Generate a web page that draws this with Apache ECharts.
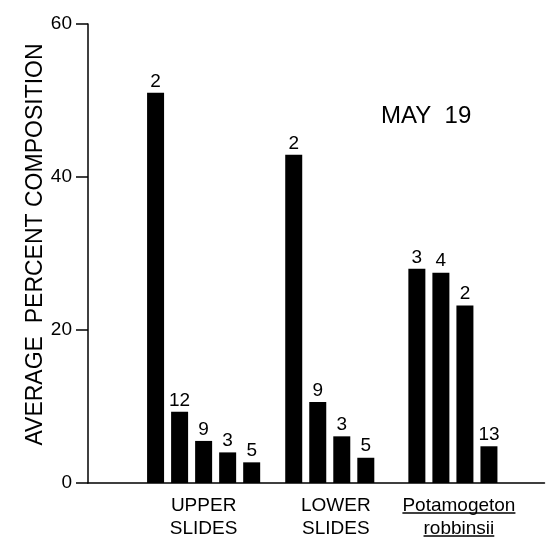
<!DOCTYPE html>
<html>
<head>
<meta charset="utf-8">
<script src="https://cdn.jsdelivr.net/npm/echarts@6/dist/echarts.min.js"></script>
<style>
  html, body { margin: 0; padding: 0; background: #fff; }
  #chart { width: 546px; height: 540px; }
</style>
</head>
<body>
<div id="chart"></div>
<script>
// ---- data ----
const groupLabels = ['UPPER\nSLIDES', 'LOWER\nSLIDES', 'Potamogeton\nrobbinsii'];
const upperValues = [51.0, 9.3, 5.5, 4.0, 2.7];
const upperCounts = [2, 12, 9, 3, 5];
const lowerValues = [42.9, 10.6, 6.1, 3.3];
const lowerCounts = [2, 9, 3, 5];
const potaValues = [28.0, 27.5, 23.2, 4.8];
const potaCounts = [3, 4, 2, 13];
const yTicks = [0, 20, 40, 60];
const yAxisTitle = 'AVERAGE  PERCENT COMPOSITION';
const dateText = 'MAY  19';

// ---- layout (slots on a fine category axis) ----
const SLOTS = 152;
const groupStart = [22, 68, 109];
const barStep = 8;
const labelSlot = [38, 82, 123];
const FONT = '"Liberation Sans", Arial, sans-serif';

const groups = [
  { values: upperValues, counts: upperCounts },
  { values: lowerValues, counts: lowerCounts },
  { values: potaValues, counts: potaCounts }
];

const categories = [];
const catLabel = {};
for (let i = 0; i < SLOTS; i++) categories.push('s' + i);
labelSlot.forEach((s, g) => { catLabel['s' + s] = groupLabels[g]; });

const seriesData = new Array(SLOTS).fill('-');
const countAt = {};
groups.forEach((grp, g) => {
  grp.values.forEach((v, k) => {
    const idx = groupStart[g] + k * barStep;
    seriesData[idx] = v;
    countAt[idx] = grp.counts[k];
  });
});

const chart = echarts.init(document.getElementById('chart'));
const option = {
  animation: false,
  backgroundColor: '#fff',
  textStyle: { fontFamily: FONT, color: '#000' },
  title: {
    text: dateText,
    left: 381,
    top: 104,
    padding: 0,
    textStyle: { fontFamily: FONT, fontSize: 24, fontWeight: 'normal', color: '#000' }
  },
  grid: { left: 88, right: 0, top: 24, bottom: 56, containLabel: false },
  xAxis: {
    type: 'category',
    data: categories,
    boundaryGap: true,
    axisLine: { lineStyle: { color: '#000', width: 1.5 } },
    axisTick: { show: false },
    axisLabel: {
      interval: 0,
      margin: 11,
      fontSize: 19,
      lineHeight: 23,
      color: '#000',
      fontFamily: FONT,
      formatter: (v) => catLabel[v] || ''
    },
    splitLine: { show: false }
  },
  yAxis: {
    type: 'value',
    min: yTicks[0],
    max: yTicks[yTicks.length - 1],
    interval: yTicks[1] - yTicks[0],
    name: yAxisTitle,
    nameLocation: 'middle',
    nameGap: 41,
    nameMoveOverlap: false,
    nameTextStyle: { fontFamily: FONT, fontSize: 23, color: '#000', padding: [0, 0, 0, 18] },
    axisLine: { show: true, lineStyle: { color: '#000', width: 1.5 } },
    axisTick: { show: true, length: 12, lineStyle: { color: '#000', width: 1.5 } },
    axisLabel: { fontSize: 19, margin: 16, color: '#000', fontFamily: FONT },
    splitLine: { show: false }
  },
  series: [{
    type: 'bar',
    data: seriesData,
    barWidth: 17,
    itemStyle: { color: '#000' },
    label: {
      show: true,
      position: 'top',
      distance: 2,
      fontSize: 19,
      color: '#000',
      fontFamily: FONT,
      formatter: (p) => (countAt[p.dataIndex] !== undefined ? String(countAt[p.dataIndex]) : '')
    }
  }]
};
chart.setOption(option);

// underline the latin name (typographic convention in the reference)
(function addUnderline() {
  const lines = groupLabels[2].split('\n');
  const ctx = document.createElement('canvas').getContext('2d');
  ctx.font = '19px ' + FONT;
  const cx = chart.convertToPixel({ xAxisIndex: 0 }, 's' + labelSlot[2]);
  const y0 = chart.convertToPixel({ yAxisIndex: 0 }, 0);
  const offsets = [30, 53];
  const elements = lines.map((t, i) => {
    const w = ctx.measureText(t).width;
    return {
      type: 'line',
      shape: { x1: cx - w / 2, y1: y0 + offsets[i], x2: cx + w / 2, y2: y0 + offsets[i] },
      style: { stroke: '#000', lineWidth: 1.3 },
      silent: true
    };
  });
  chart.setOption({ graphic: elements });
})();
</script>
</body>
</html>
